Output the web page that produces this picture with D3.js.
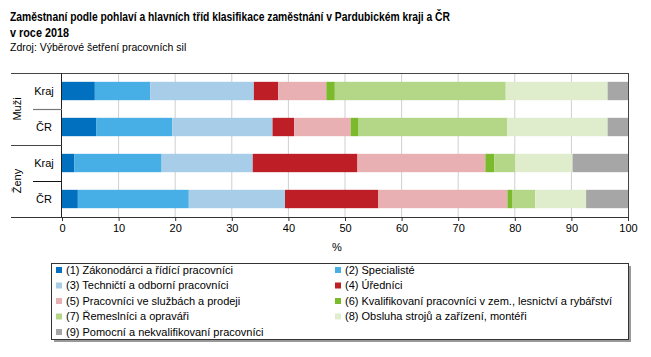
<!DOCTYPE html>
<html><head><meta charset="utf-8">
<script src="https://cdn.jsdelivr.net/npm/d3@7"></script>
<style>
body{margin:0;background:#fff;}
text{font-family:Arial,"Liberation Sans",sans-serif;fill:#000;}
</style></head>
<body>
<svg id="c" width="651" height="357"></svg>
<script>
const titleLines = ["Zaměstnaní podle pohlaví a hlavních tříd klasifikace zaměstnání v Pardubickém kraji a ČR", "v roce 2018"];
const subtitle = "Zdroj: Výběrové šetření pracovních sil";
const groups = ["Muži", "Ženy"];
const rows = ["Muži|Kraj", "Muži|ČR", "Ženy|Kraj", "Ženy|ČR"];
const rowLabels = ["Kraj", "ČR", "Kraj", "ČR"];
const seriesNames = [
  "(1) Zákonodárci a řídící pracovníci",
  "(2) Specialisté",
  "(3) Techničtí a odborní pracovníci",
  "(4) Úředníci",
  "(5) Pracovníci ve službách a prodeji",
  "(6) Kvalifikovaní pracovníci v zem., lesnictví a rybářství",
  "(7) Řemeslníci a opraváři",
  "(8) Obsluha strojů a zařízení, montéři",
  "(9) Pomocní a nekvalifikovaní pracovníci"
];
const colors = ["#0070bf","#47aee6","#a8cde8","#be1e26","#e8b0b3","#7aba2c","#b3d786","#dfedcd","#a6a6a6"];
const muziKraj = [5.8, 9.8, 18.3, 4.3, 8.5, 1.5, 30.2, 18.0, 3.6];
const muziCR   = [6.1, 13.4, 17.7, 3.8, 10.0, 1.4, 26.3, 17.7, 3.6];
const zenyKraj = [2.2, 15.4, 16.1, 18.5, 22.6, 1.6, 3.7, 10.1, 9.8];
const zenyCR   = [2.8, 19.6, 17.0, 16.5, 22.8, 0.9, 4.0, 9.0, 7.4];
const xTicks = [0,10,20,30,40,50,60,70,80,90,100];
const xTitle = "%";

const svg = d3.select("#c");
const L = 62, R = 628, T = 73, B = 217;

// title
svg.append("text").attr("x",10).attr("y",21).attr("font-size","13.5px").attr("font-weight","bold")
  .text(titleLines[0]).attr("textLength",440).attr("lengthAdjust","spacingAndGlyphs");
svg.append("text").attr("x",10).attr("y",37).attr("font-size","13.5px").attr("font-weight","bold")
  .text(titleLines[1]).attr("textLength",59).attr("lengthAdjust","spacingAndGlyphs");
svg.append("text").attr("x",10).attr("y",51).attr("font-size","10.5px").text(subtitle);

const x = d3.scaleLinear().domain([0,100]).range([L,R]);
const y = d3.scaleBand().domain(rows).range([T,B]).paddingInner(0.49).paddingOuter(0.245);

// grid
svg.append("g").selectAll("line").data(xTicks.filter(d=>d>0&&d<100)).join("line")
  .attr("x1",d=>x(d)).attr("x2",d=>x(d)).attr("y1",T).attr("y2",B)
  .attr("stroke","#cfcfcf").attr("stroke-width",1);

// data table
const valuesByRow = [muziKraj, muziCR, zenyKraj, zenyCR];
const keys = seriesNames.map((d,i)=>"s"+i);
const table = rows.map((r,ri)=>{ const o={row:r}; keys.forEach((k,i)=>o[k]=valuesByRow[ri][i]); return o; });
const stack = d3.stack().keys(keys)(table);

svg.append("g").selectAll("g").data(stack).join("g").attr("fill",(d,i)=>colors[i])
  .selectAll("rect").data(d=>d).join("rect")
  .attr("x",d=>x(d[0])).attr("width",d=>x(d[1])-x(d[0]))
  .attr("y",d=>y(d.data.row)).attr("height",y.bandwidth());

// frame lines
const fr = svg.append("g").attr("fill","none");
fr.append("line").attr("x1",11).attr("x2",R).attr("y1",T+0.5).attr("y2",T+0.5).attr("stroke","#444");
fr.append("line").attr("x1",R+0.5).attr("x2",R+0.5).attr("y1",T).attr("y2",B).attr("stroke","#444");
fr.append("line").attr("x1",L-0.5).attr("x2",L-0.5).attr("y1",T).attr("y2",B).attr("stroke","#222");
fr.append("line").attr("x1",11).attr("x2",L).attr("y1",145.5).attr("y2",145.5).attr("stroke","#444");
fr.append("line").attr("x1",33).attr("x2",L).attr("y1",109.5).attr("y2",109.5).attr("stroke","#777").attr("stroke-width",1.2);
fr.append("line").attr("x1",33).attr("x2",L).attr("y1",181.5).attr("y2",181.5).attr("stroke","#111");

// x axis
const ax = svg.append("g").attr("transform",`translate(0,${B})`)
  .call(d3.axisBottom(x).tickValues(xTicks).tickSize(4).tickSizeOuter(0));
ax.select(".domain").remove();
ax.append("line").attr("x1",11).attr("x2",R).attr("y1",0.5).attr("y2",0.5).attr("stroke","#333");
ax.selectAll(".tick line").attr("stroke","#333");
ax.selectAll(".tick text").attr("font-size","11px").attr("font-family","Arial,'Liberation Sans',sans-serif").attr("fill","#000").attr("dy","0.85em").attr("y",6);
svg.append("text").attr("x",337).attr("y",251).attr("font-size","11px").attr("text-anchor","middle").text(xTitle);

// row labels
svg.append("g").selectAll("text").data(rows).join("text")
  .attr("x",44).attr("y",d=>y(d)+y.bandwidth()/2).attr("dy","0.35em")
  .attr("text-anchor","middle").attr("font-size","11px").text((d,i)=>rowLabels[i]);
// group labels
groups.forEach((g,gi)=>{
  const cy = (y(rows[gi*2]) + y(rows[gi*2+1]) + y.bandwidth())/2;
  svg.append("text").attr("transform",`translate(21,${cy}) rotate(-90)`)
    .attr("text-anchor","middle").attr("font-size","11px").text(g);
});

// legend
const lg = svg.append("g");
lg.append("rect").attr("x",54).attr("y",266).attr("width",577).attr("height",76).attr("fill","#999");
lg.append("rect").attr("x",51.5).attr("y",263.5).attr("width",577).attr("height",76).attr("fill","#fff").attr("stroke","#333");
const items = lg.selectAll("g").data(seriesNames).join("g")
  .attr("transform",(d,i)=>`translate(${i%2===0?56:335},${270+Math.floor(i/2)*15.5})`);
items.append("rect").attr("x",0).attr("y",-3).attr("width",6).attr("height",6).attr("fill",(d,i)=>colors[i]);
items.append("text").attr("x",10).attr("dy","0.35em").attr("font-size","11px").text(d=>d);
</script>
</body></html>
